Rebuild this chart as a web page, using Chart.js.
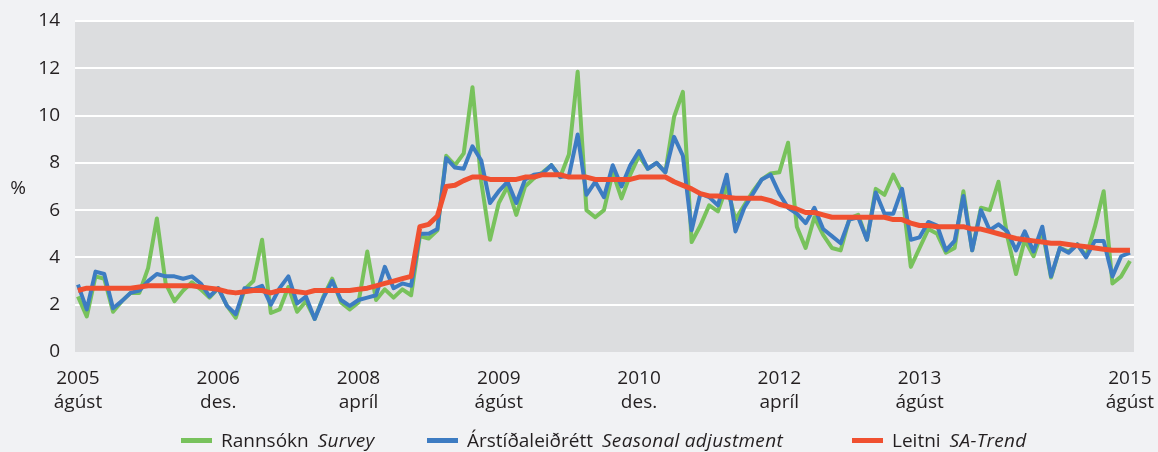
<!DOCTYPE html>
<html>
<head>
<meta charset="utf-8">
<script src="https://cdn.jsdelivr.net/npm/chart.js@4/dist/chart.umd.min.js"></script>
<style>
  body { margin: 0; background: #f1f2f4; }
  #wrap { position: relative; width: 1158px; height: 452px; }
  #legend { position: absolute; left: 0; top: 427px; width: 1158px; height: 26px;
    font-family: "Open Sans", sans-serif; font-size: 19px; color: #231f20; }
  .item { position: absolute; top: 0; white-space: nowrap; line-height: 26px; }
  .swatch { display: inline-block; width: 31px; height: 5px; vertical-align: middle; margin-right: 9px; position: relative; top: -1px; }
  .en { font-style: italic; margin-left: 9px; letter-spacing: 0.3px; }
</style>
</head>
<body>
<div id="wrap">
  <canvas id="chart" width="1158" height="452"></canvas>
  <div id="legend"></div>
</div>
<script>
// monthly, ágúst 2005 - ágúst 2015
var tickPositions = [0, 16, 32, 48, 64, 80, 96, 120];
var tickLabels = [
  ['2005', 'ágúst'], ['2006', 'des.'], ['2008', 'apríl'], ['2009', 'ágúst'],
  ['2010', 'des.'], ['2012', 'apríl'], ['2013', 'ágúst'], ['2015', 'ágúst']
];

// Rannsókn / Survey
var survey = [
  2.35, 1.5, 3.2, 3.1, 1.7, 2.15, 2.5, 2.5, 3.55, 5.65,
  2.9, 2.15, 2.6, 2.95, 2.65, 2.3, 2.7, 1.95, 1.45, 2.65,
  3.0, 4.75, 1.65, 1.8, 2.75, 1.7, 2.15, 1.4, 2.35, 3.1,
  2.1, 1.8, 2.1, 4.25, 2.2, 2.65, 2.3, 2.65, 2.4, 4.9,
  4.8, 5.15, 8.3, 7.9, 8.4, 11.2, 7.2, 4.75, 6.3, 7.0,
  5.8, 7.0, 7.35, 7.6, 7.9, 7.4, 8.35, 11.85, 6.0, 5.7,
  6.0, 7.6, 6.5, 7.5, 8.3, 7.75, 8.0, 7.6, 9.95, 11.0,
  4.65, 5.35, 6.2, 5.95, 7.0, 5.6, 6.2, 6.8, 7.3, 7.55,
  7.6, 8.85, 5.3, 4.4, 5.7, 4.95, 4.4, 4.3, 5.65, 5.8,
  4.75, 6.9, 6.65, 7.5, 6.75, 3.6, 4.4, 5.2, 5.0, 4.2,
  4.4, 6.8, 4.3, 6.1, 6.0, 7.2, 4.9, 3.3, 4.75, 4.05,
  5.15, 3.15, 4.4, 4.25, 4.55, 4.05, 5.3, 6.8, 2.9, 3.2,
  3.85
];

// Árstíðaleiðrétt / Seasonal adjustment
var seasonal = [
  2.85, 1.8, 3.4, 3.3, 1.85, 2.15, 2.5, 2.6, 3.0, 3.3,
  3.2, 3.2, 3.1, 3.2, 2.9, 2.35, 2.7, 1.95, 1.6, 2.7,
  2.65, 2.8, 2.0, 2.7, 3.2, 2.05, 2.35, 1.4, 2.3, 3.0,
  2.2, 1.95, 2.2, 2.3, 2.4, 3.6, 2.7, 2.9, 2.8, 5.0,
  5.0, 5.2, 8.2, 7.8, 7.75, 8.7, 8.1, 6.3, 6.8, 7.2,
  6.3, 7.3, 7.5, 7.55, 7.9, 7.4, 7.45, 9.2, 6.65, 7.2,
  6.55, 7.9, 7.0, 7.9, 8.5, 7.75, 8.0, 7.6, 9.1, 8.3,
  5.15, 6.7, 6.55, 6.2, 7.5, 5.1, 6.1, 6.7, 7.3, 7.5,
  6.7, 6.1, 5.85, 5.45, 6.1, 5.2, 4.9, 4.6, 5.6, 5.7,
  4.75, 6.75, 5.85, 5.85, 6.9, 4.75, 4.85, 5.5, 5.35, 4.3,
  4.7, 6.6, 4.3, 6.0, 5.15, 5.4, 5.1, 4.3, 5.1, 4.25,
  5.3, 3.2, 4.4, 4.2, 4.55, 4.0, 4.7, 4.7, 3.2, 4.05,
  4.2
];

// Leitni / SA-Trend
var trend = [
  2.6, 2.7, 2.7, 2.7, 2.7, 2.7, 2.7, 2.75, 2.8, 2.8,
  2.8, 2.8, 2.8, 2.8, 2.75, 2.7, 2.65, 2.55, 2.5, 2.55,
  2.6, 2.6, 2.5, 2.6, 2.6, 2.55, 2.5, 2.6, 2.6, 2.6,
  2.6, 2.6, 2.65, 2.7, 2.8, 2.9, 3.0, 3.1, 3.2, 5.3,
  5.4, 5.75, 7.0, 7.05, 7.25, 7.4, 7.4, 7.3, 7.3, 7.3,
  7.3, 7.4, 7.4, 7.5, 7.5, 7.5, 7.4, 7.4, 7.4, 7.3,
  7.3, 7.3, 7.3, 7.3, 7.4, 7.4, 7.4, 7.4, 7.2, 7.05,
  6.9, 6.7, 6.6, 6.6, 6.55, 6.5, 6.5, 6.5, 6.5, 6.4,
  6.25, 6.15, 6.05, 5.9, 5.9, 5.8, 5.7, 5.7, 5.7, 5.7,
  5.7, 5.7, 5.7, 5.6, 5.6, 5.45, 5.35, 5.35, 5.3, 5.3,
  5.3, 5.3, 5.2, 5.2, 5.1, 5.0, 4.9, 4.8, 4.75, 4.7,
  4.65, 4.6, 4.6, 4.55, 4.5, 4.45, 4.4, 4.35, 4.3, 4.3,
  4.3
];

var seriesNames = [['Rannsókn', 'Survey'], ['Árstíðaleiðrétt', 'Seasonal adjustment'], ['Leitni', 'SA-Trend']];
var seriesColors = ['#78c25c', '#3d7cc2', '#f05030'];

function points(arr) {
  return arr.map(function(v, i) { return { x: i, y: v }; });
}

var font = { family: '"Open Sans", sans-serif', size: 19 };

var plotBg = {
  id: 'plotBg',
  beforeDraw: function(chart) {
    var a = chart.chartArea, ctx = chart.ctx;
    ctx.save();
    ctx.fillStyle = '#dcdddf';
    ctx.fillRect(a.left, a.top, a.right - a.left, a.bottom - a.top);
    ctx.restore();
  },
  afterDraw: function(chart) {
    var ctx = chart.ctx;
    ctx.save();
    ctx.fillStyle = '#231f20';
    ctx.font = '19px "Open Sans", sans-serif';
    ctx.textAlign = 'center';
    ctx.textBaseline = 'middle';
    ctx.fillText('%', 18, 189);
    ctx.restore();
  }
};

new Chart(document.getElementById('chart'), {
  type: 'line',
  data: {
    datasets: [
      { label: seriesNames[0].join(' '), data: points(survey), borderColor: seriesColors[0], borderWidth: 4, order: 3 },
      { label: seriesNames[1].join(' '), data: points(seasonal), borderColor: seriesColors[1], borderWidth: 4, order: 2 },
      { label: seriesNames[2].join(' '), data: points(trend), borderColor: seriesColors[2], borderWidth: 5, order: 1 }
    ]
  },
  options: {
    responsive: false,
    animation: false,
    events: [],
    layout: { padding: { top: 21, right: 24, left: 0, bottom: 0 } },
    elements: { point: { radius: 0 }, line: { tension: 0, borderJoinStyle: 'round', fill: false } },
    plugins: { legend: { display: false }, tooltip: { enabled: false } },
    scales: {
      x: {
        type: 'linear',
        min: -0.34,
        max: 120.46,
        afterBuildTicks: function(scale) {
          scale.ticks = tickPositions.map(function(v) { return { value: v }; });
        },
        afterFit: function(scale) {
          scale.height = 100;
          scale.paddingLeft = 0;
          scale.paddingRight = 0;
        },
        grid: { display: false, drawTicks: false },
        border: { display: false },
        ticks: {
          autoSkip: false, maxRotation: 0, padding: 14,
          color: '#231f20',
          font: { family: font.family, size: 19, lineHeight: 1.3 },
          callback: function(v) {
            var k = tickPositions.indexOf(v);
            return k >= 0 ? tickLabels[k] : '';
          }
        }
      },
      y: {
        min: 0,
        max: 14,
        afterFit: function(scale) {
          scale.width = 75;
          scale.paddingTop = 0;
          scale.paddingBottom = 0;
        },
        border: { display: false },
        grid: {
          drawTicks: false,
          lineWidth: 2,
          color: function(c) { return c.tick && c.tick.value === 0 ? 'rgba(0,0,0,0)' : '#ffffff'; }
        },
        ticks: { stepSize: 2, padding: 15, color: '#231f20', font: font }
      }
    }
  },
  plugins: [plotBg]
});

// legend with italic English names
var legendLeft = [181, 427, 852];
var lg = document.getElementById('legend');
seriesNames.forEach(function(n, k) {
  var d = document.createElement('div');
  d.className = 'item';
  d.style.left = legendLeft[k] + 'px';
  d.innerHTML = '<span class="swatch" style="background:' + seriesColors[k] + '"></span>' +
    n[0] + '<span class="en">' + n[1] + '</span>';
  lg.appendChild(d);
});
</script>
</body>
</html>
